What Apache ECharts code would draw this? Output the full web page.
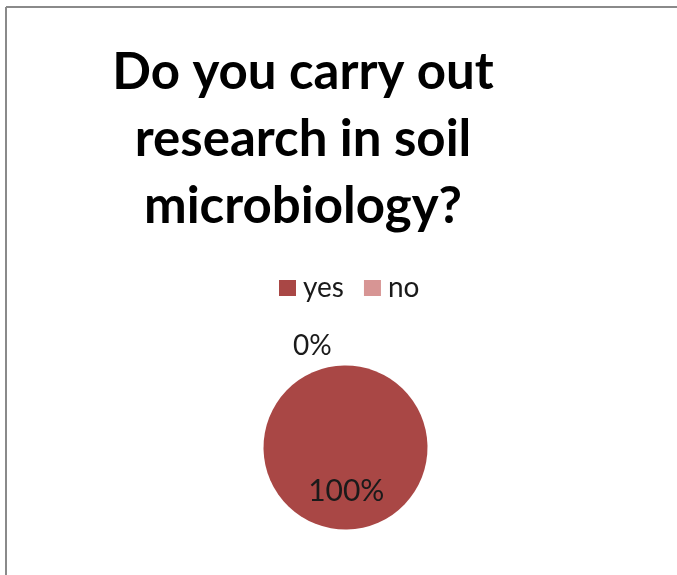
<!DOCTYPE html>
<html>
<head>
<meta charset="utf-8">
<script src="https://cdn.jsdelivr.net/npm/echarts@6/dist/echarts.min.js"></script>
<style>
html,body{margin:0;padding:0;background:#fff;}
#chart{width:677px;height:575px;}
</style>
</head>
<body>
<div id="chart"></div>
<script>
const titleLines = ['Do you carry out', 'research in soil', 'microbiology?'];
const categories = ['yes', 'no'];
const values = [100, 0];
const colors = ['#A94745', '#D79594'];

const chart = echarts.init(document.getElementById('chart'), null, {renderer: 'canvas'});
chart.setOption({
  backgroundColor: '#ffffff',
  animation: false,
  title: {
    text: titleLines.join('\n'),
    left: 298,
    top: 34,
    textAlign: 'center',
    textStyle: {
      fontFamily: 'Lato',
      fontWeight: 'bold',
      fontSize: 51,
      lineHeight: 67,
      color: '#000000'
    }
  },
  legend: {
    data: categories,
    left: 274,
    top: 269,
    icon: 'rect',
    itemWidth: 17,
    itemHeight: 16,
    itemGap: 20,
    textStyle: {
      fontFamily: 'Lato',
      fontSize: 28,
      lineHeight: 28,
      padding: [0, 0, 0, 2],
      color: '#1a1a1a'
    }
  },
  graphic: [
    {type: 'line', shape: {x1: 6, y1: 7, x2: 677, y2: 7}, style: {stroke: '#8a8a8a', lineWidth: 2}},
    {type: 'line', shape: {x1: 6, y1: 7, x2: 6, y2: 575}, style: {stroke: '#8a8a8a', lineWidth: 2}}
  ],
  series: [{
    type: 'pie',
    center: [345.5, 447.5],
    radius: 82,
    startAngle: 91,
    clockwise: true,
    avoidLabelOverlap: false,
    itemStyle: {borderWidth: 0},
    emphasis: {disabled: true},
    data: categories.map((c, i) => ({
      name: c,
      value: values[i],
      itemStyle: {color: colors[i]},
      label: i === 0
        ? {show: true, position: 'inside', fontSize: 30}
        : {show: true, position: 'outside', fontSize: 28},
      labelLine: {show: false, length: 20, length2: 7}
    })),
    label: {
      formatter: '{d}%',
      fontFamily: 'Lato',
      color: '#1a1a1a'
    }
  }]
});
</script>
</body>
</html>
